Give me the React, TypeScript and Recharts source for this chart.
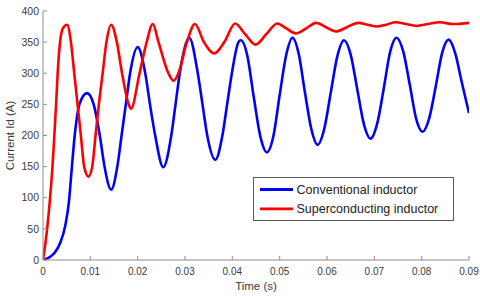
import React from 'react';
import { LineChart, Line, XAxis, YAxis, Legend, Label } from 'recharts';

// Conventional inductor (blue)
const blueTime = [
  0, 0.0015, 0.0025, 0.0036, 0.0047, 0.0055, 0.006, 0.0067, 0.0077, 0.0093,
  0.0107, 0.012, 0.013, 0.0144, 0.0157, 0.0166, 0.0175, 0.0184, 0.02,
  0.0216, 0.0226, 0.0237, 0.0254, 0.0271, 0.028, 0.0289, 0.0303, 0.0309,
  0.0327, 0.0337, 0.0347, 0.0364, 0.0379, 0.0389, 0.0399, 0.0413, 0.0418,
  0.0432, 0.0445, 0.0459, 0.0473, 0.0487, 0.05, 0.0514, 0.0527,
  0.054, 0.0553, 0.0567, 0.058, 0.0594, 0.0608, 0.0622, 0.0636,
  0.065, 0.0664, 0.0678, 0.0692, 0.0706, 0.072, 0.0733, 0.0747,
  0.0761, 0.0775, 0.0788, 0.0802, 0.0816, 0.083, 0.0843, 0.0857,
  0.0871, 0.0884, 0.09,
];
const blueCurrent = [
  0, 5, 12, 27, 55, 95, 140, 200, 250, 268,
  250, 200, 150, 113, 150, 200, 250, 300, 342,
  300, 250, 200, 149, 200, 250, 300, 350, 357,
  300, 250, 200, 161, 200, 250, 300, 350, 353,
  327, 263, 199, 173, 200, 265, 330, 357,
  332, 271, 210, 185, 210, 269, 328, 353,
  330, 274, 218, 195, 219, 276, 333, 357,
  335, 281, 228, 206, 228, 280, 332, 354,
  332, 288, 236,
];

// Superconducting inductor (red)
const redTime = [
  0, 0.0008, 0.0015, 0.002, 0.0024, 0.0028, 0.0031, 0.0036, 0.0042, 0.0051,
  0.0059, 0.0066, 0.0073, 0.008, 0.0087, 0.0096, 0.0104, 0.0111, 0.0118, 0.0126, 0.0134, 0.0144,
  0.0156, 0.0167, 0.0181, 0.0186, 0.0204, 0.0219, 0.0232,
  0.0244, 0.0265, 0.0276, 0.0286, 0.0304, 0.0321,
  0.034, 0.0362, 0.0383, 0.0406, 0.0427, 0.0449, 0.0472, 0.0495,
  0.0514, 0.0534, 0.0556, 0.0577, 0.0598, 0.0619, 0.0642, 0.0666,
  0.0686, 0.0706, 0.0725, 0.0745, 0.0767, 0.0789, 0.0813, 0.0838, 0.0866, 0.09,
];
const redCurrent = [
  0, 45, 100, 150, 200, 255, 300, 350, 372, 378,
  350, 300, 250, 200, 150, 134, 150, 200, 250, 300, 350, 378,
  350, 300, 250, 243, 300, 350, 379,
  350, 300, 288, 300, 350, 379,
  350, 332, 350, 380, 363, 346, 363, 380,
  372, 364, 372, 381, 374, 367, 374, 381,
  378, 375, 378, 382, 379, 376, 379, 382, 379, 381,
];

const xTicks = [0, 0.01, 0.02, 0.03, 0.04, 0.05, 0.06, 0.07, 0.08, 0.09];
const xTickLabels = ['0', '0.01', '0.02', '0.03', '0.04', '0.05', '0.06', '0.07', '0.08', '0.09'];
const yTicks = [0, 50, 100, 150, 200, 250, 300, 350, 400];
const yTickLabels = ['0', '50', '100', '150', '200', '250', '300', '350', '400'];
const seriesNames = ['Conventional inductor', 'Superconducting inductor'];
const axisTitles = ['Time (s)', 'Current Id (A)'];

const blueData = blueTime.map((t, i) => ({ t, v: blueCurrent[i] }));
const redData = redTime.map((t, i) => ({ t, v: redCurrent[i] }));

const AXIS = '#8e8e8e';
const TEXT = '#3a3a3a';
const FONT = '"Liberation Sans", Arial, Helvetica, sans-serif';
const TICK = 4;

const BottomTick = (props: any) => {
  const { x, y, payload } = props;
  const idx = xTicks.indexOf(payload.value);
  return (
    <g>
      <line x1={x} y1={y} x2={x} y2={y - TICK} stroke={AXIS} strokeWidth={1} />
      <text x={x} y={y + 15} textAnchor="middle" fontSize={10} fill={TEXT} fontFamily={FONT}>
        {xTickLabels[idx]}
      </text>
    </g>
  );
};

const TopTick = (props: any) => {
  const { x, y } = props;
  return <line x1={x} y1={y} x2={x} y2={y + TICK} stroke={AXIS} strokeWidth={1} />;
};

const LeftTick = (props: any) => {
  const { x, y, payload } = props;
  const idx = yTicks.indexOf(payload.value);
  return (
    <g>
      <line x1={x} y1={y} x2={x + TICK} y2={y} stroke={AXIS} strokeWidth={1} />
      <text x={x - 4} y={y + 3.7} textAnchor="end" fontSize={10.5} fill={TEXT} fontFamily={FONT}>
        {yTickLabels[idx]}
      </text>
    </g>
  );
};

const RightTick = (props: any) => {
  const { x, y } = props;
  return <line x1={x} y1={y} x2={x - TICK} y2={y} stroke={AXIS} strokeWidth={1} />;
};

const renderLegend = (props: any) => {
  const payload = props.payload || [];
  return (
    <svg width={201} height={44} style={{ display: 'block' }}>
      <rect x={0.5} y={0.5} width={200} height={43} fill="#fff" stroke="#5a5a5a" strokeWidth={1} />
      {payload.map((entry: any, i: number) => (
        <g key={i}>
          <line x1={7} x2={40} y1={12.5 + i * 19.3} y2={12.5 + i * 19.3} stroke={entry.color} strokeWidth={2.8} />
          <text x={43.5} y={17 + i * 19.3} fontSize={12.5} fill="#222" fontFamily={FONT}>
            {entry.value}
          </text>
        </g>
      ))}
    </svg>
  );
};

export default function App() {
  return (
    <div style={{ position: 'absolute', left: 0, top: 0, background: '#fff' }}>
      <LineChart width={480} height={296} margin={{ top: 11, right: 11, left: 0, bottom: 0 }}>
        <XAxis
          dataKey="t"
          type="number"
          domain={[0, 0.09]}
          ticks={xTicks}
          allowDataOverflow
          height={36}
          stroke={AXIS}
          tickLine={false}
          tickSize={0}
          tickMargin={0}
          tick={<BottomTick />}
          interval={0}
        >
          <Label
            content={(p: any) => {
              const vb = p.viewBox;
              return (
                <text x={vb.x + vb.width / 2} y={vb.y + 29.5} textAnchor="middle" fontSize={11.5} fill={TEXT} fontFamily={FONT}>
                  {axisTitles[0]}
                </text>
              );
            }}
          />
        </XAxis>
        <XAxis
          xAxisId="top"
          orientation="top"
          dataKey="t"
          type="number"
          domain={[0, 0.09]}
          ticks={xTicks}
          allowDataOverflow
          height={0}
          stroke={AXIS}
          tickLine={false}
          tickSize={0}
          tickMargin={0}
          tick={<TopTick />}
          interval={0}
        />
        <YAxis
          type="number"
          domain={[0, 400]}
          ticks={yTicks}
          allowDataOverflow
          width={43}
          stroke={AXIS}
          tickLine={false}
          tickSize={0}
          tickMargin={0}
          tick={<LeftTick />}
          interval={0}
        >
          <Label
            content={(p: any) => {
              const vb = p.viewBox;
              const cx = vb.x + 14;
              const cy = vb.y + vb.height / 2;
              return (
                <text x={cx} y={cy} transform={`rotate(-90 ${cx} ${cy})`} textAnchor="middle" fontSize={11.5} fill={TEXT} fontFamily={FONT}>
                  {axisTitles[1]}
                </text>
              );
            }}
          />
        </YAxis>
        <YAxis
          yAxisId="right"
          orientation="right"
          type="number"
          domain={[0, 400]}
          ticks={yTicks}
          allowDataOverflow
          width={0}
          stroke={AXIS}
          tickLine={false}
          tickSize={0}
          tickMargin={0}
          tick={<RightTick />}
          interval={0}
        />
        <Legend
          layout="horizontal"
          verticalAlign="middle"
          align="center"
          content={renderLegend}
          wrapperStyle={{ left: 253, top: 177, width: 201, height: 44, margin: 0, padding: 0 }}
        />
        <Line
          data={blueData}
          dataKey="v"
          name={seriesNames[0]}
          type="monotone"
          stroke="#0000ff"
          strokeWidth={2.6}
          dot={false}
          activeDot={false}
          isAnimationActive={false}
        />
        <Line
          data={redData}
          dataKey="v"
          name={seriesNames[1]}
          type="monotone"
          stroke="#ff0000"
          strokeWidth={2.6}
          dot={false}
          activeDot={false}
          isAnimationActive={false}
        />
      </LineChart>
    </div>
  );
}
